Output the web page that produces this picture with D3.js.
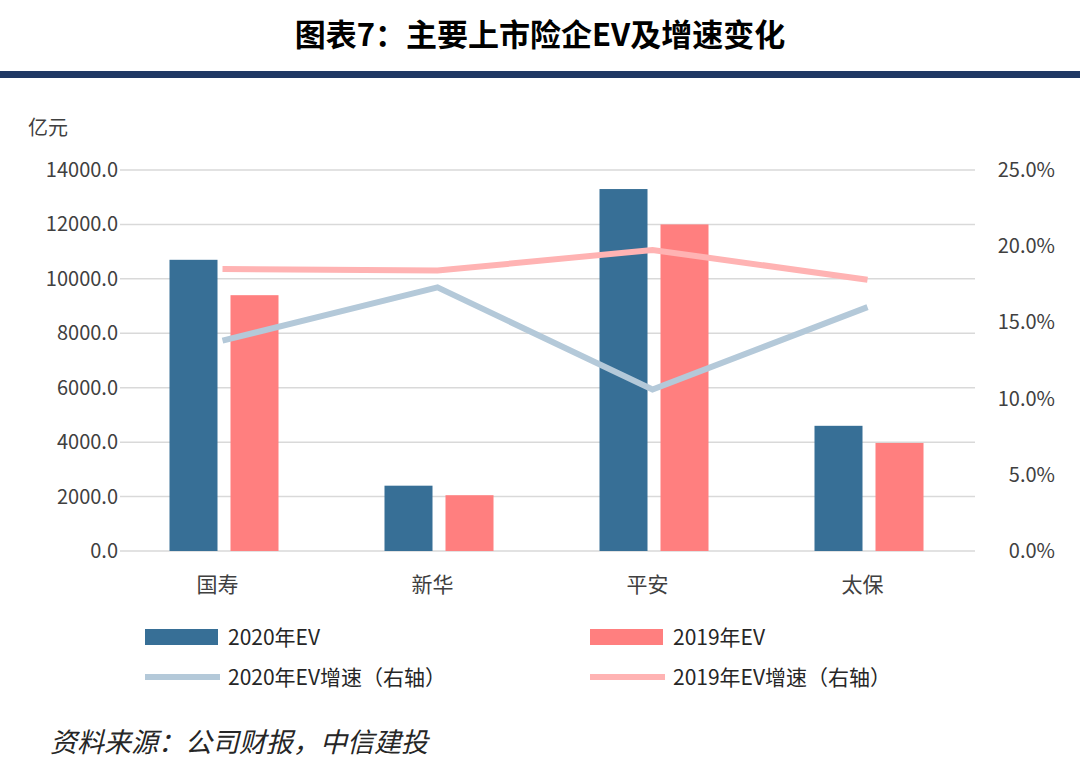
<!DOCTYPE html><html><head><meta charset="utf-8"><script src="https://cdn.jsdelivr.net/npm/d3@7"></script>
<style>body{margin:0;background:#fff}text{font-family:"Noto Sans CJK SC","Open Sans",sans-serif}</style></head><body>
<svg id="c" width="1080" height="765"></svg>
<script>
const categories=["国寿","新华","平安","太保"];
const ev2020=[10700,2400,13300,4600];
const ev2019=[9400,2050,12000,3970];
const g2020=[13.8,17.3,10.6,16.0];
const g2019=[18.5,18.4,19.75,17.8];
const leftTicks=[0,2000,4000,6000,8000,10000,12000,14000];
const rightTicks=[0,5,10,15,20,25];
const svg=d3.select("#c");
svg.append("text").attr("x",540).attr("y",46).attr("text-anchor","middle").attr("font-size",31).attr("font-weight","bold").text("图表7：主要上市险企EV及增速变化");
svg.append("rect").attr("x",0).attr("y",71).attr("width",1080).attr("height",7).attr("fill","#1f3864");
const x=d3.scaleBand().domain(categories).range([120,980]);
const yL=d3.scaleLinear().domain([0,14000]).range([551,170]);
const yR=d3.scaleLinear().domain([0,25]).range([551,170]);
svg.append("g").selectAll("line").data(leftTicks).join("line").attr("x1",120).attr("x2",975).attr("y1",d=>yL(d)).attr("y2",d=>yL(d)).attr("stroke","#d9d9d9").attr("stroke-width",1.5);
svg.append("g").selectAll("text").data(leftTicks).join("text").attr("x",118).attr("y",d=>yL(d)+7).attr("text-anchor","end").attr("font-size",20).attr("fill","#404040").text(d=>d.toFixed(1));
svg.append("g").selectAll("text").data(rightTicks).join("text").attr("x",1055).attr("y",d=>yR(d)+7).attr("text-anchor","end").attr("font-size",20).attr("fill","#404040").text(d=>d.toFixed(1)+"%");
svg.append("text").attr("x",28).attr("y",135).attr("font-size",20).attr("fill","#404040").text("亿元");
svg.append("g").selectAll("text").data(categories).join("text").attr("x",d=>x(d)+x.bandwidth()/2-10).attr("y",592).attr("text-anchor","middle").attr("font-size",21).attr("fill","#404040").text(d=>d);
const bw=48;
svg.append("g").selectAll("rect").data(ev2020).join("rect").attr("x",(d,i)=>x(categories[i])+x.bandwidth()/2-58).attr("width",bw).attr("y",d=>yL(d)).attr("height",d=>551-yL(d)).attr("fill","#376f96");
svg.append("g").selectAll("rect").data(ev2019).join("rect").attr("x",(d,i)=>x(categories[i])+x.bandwidth()/2+3).attr("width",bw).attr("y",d=>yL(d)).attr("height",d=>551-yL(d)).attr("fill","#ff7f7f");
const line=d3.line().x((d,i)=>x(categories[i])+x.bandwidth()/2-5).y(d=>yR(d));
svg.append("path").attr("d",line(g2020)).attr("fill","none").attr("stroke","#b4c9d9").attr("stroke-width",6);
svg.append("path").attr("d",line(g2019)).attr("fill","none").attr("stroke","#ffb3b3").attr("stroke-width",6);
const leg=[["2020年EV","#376f96",0,145,637,"bar"],["2019年EV","#ff7f7f",0,590,637,"bar"],["2020年EV增速（右轴）","#b4c9d9",0,145,677,"line"],["2019年EV增速（右轴）","#ffb3b3",0,590,677,"line"]];
leg.forEach(l=>{
 if(l[5]=="bar")svg.append("rect").attr("x",l[3]).attr("y",l[4]-8).attr("width",73).attr("height",16).attr("fill",l[1]);
 else svg.append("line").attr("x1",l[3]).attr("x2",l[3]+75).attr("y1",l[4]).attr("y2",l[4]).attr("stroke",l[1]).attr("stroke-width",6);
 svg.append("text").attr("x",l[3]+83).attr("y",l[4]+8).attr("font-size",21).attr("fill","#262626").text(l[0]);
});
svg.append("text").attr("x",50).attr("y",752).attr("font-size",27).attr("font-style","italic").attr("fill","#262626").text("资料来源：公司财报，中信建投");
</script></body></html>
